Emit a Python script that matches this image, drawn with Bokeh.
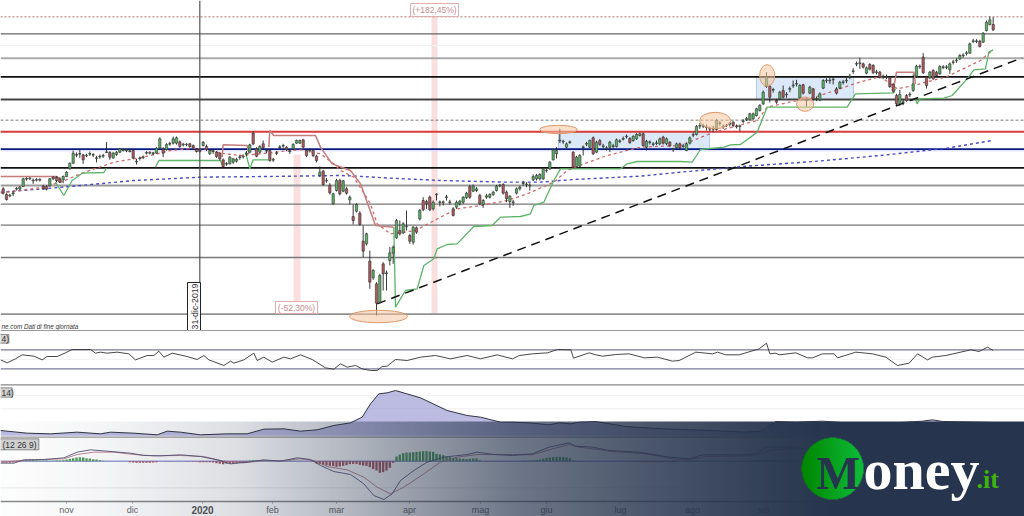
import math
import numpy as np
from bokeh.plotting import figure
from bokeh.embed import file_html
from bokeh.resources import INLINE
from bokeh.core.properties import value
from bokeh.models import Range1d

opens = [565,582,586,580,566,565,558,536,535,541,
 539,539,557,558,556,530,530,535,538,528,
 505,488,464,461,463,466,461,464,474,469,
 467,456,456,472,462,455,450,451,453,450,
 484,474,471,458,458,459,458,443,447,447,
 431,428,428,424,433,433,430,435,447,447,
 435,438,460,453,455,458,478,491,490,485,
 482,471,469,461,455,398,445,455,430,452,
 450,479,459,441,437,440,453,445,428,428,
 418,450,451,450,467,525,512,541,555,610,
 570,540,572,565,598,648,632,638,722,730,
 782,832,850,905,790,819,780,758,712,690,
 697,679,705,725,682,655,600,603,590,625,
 583,606,606,591,606,625,620,610,605,592,
 558,572,570,585,612,590,590,582,570,556,
 552,575,603,606,578,565,549,553,556,538,
 535,535,535,511,505,478,460,421,424,440,
 426,455,498,497,441,431,440,412,455,420,
 438,444,440,438,438,423,416,409,414,420,
 415,405,400,440,426,432,429,430,410,430,
 425,448,442,430,438,450,428,404,402,377,
 377,381,386,386,387,369,379,376,371,365,
 379,378,363,358,358,355,345,330,310,258,
 258,269,300,295,270,283,266,256,251,292,
 253,300,278,265,296,298,263,241,241,238,
 265,263,246,241,229,213,191,189,190,218,
 192,195,216,215,229,229,232,252,285,310,
 306,285,283,270,228,199,170,230,232,210,
 215,220,201,201,208,186,181,175,166,159,
 158,123,123,122,125,90,72,72]
closes = [578,597,584,577,564,560,535,534,533,539,
 537,537,565,566,535,535,540,545,528,515,
 488,458,462,459,478,464,459,462,472,467,
 465,454,470,458,455,445,447,448,451,473,
 482,472,469,456,456,457,443,415,458,432,
 429,415,412,438,431,431,438,442,453,453,
 425,447,450,451,468,475,498,489,470,475,
 476,469,467,459,433,430,467,438,442,450,
 480,477,457,439,435,447,451,432,420,420,
 440,465,449,465,480,515,552,539,577,580,
 540,580,541,578,590,660,612,672,752,700,
 845,810,908,825,820,817,757,740,660,700,
 670,677,722,680,695,630,628,610,628,605,
 581,604,604,589,604,645,605,602,590,578,
 590,556,565,610,600,586,582,575,557,554,
 578,595,587,604,565,560,547,551,554,528,
 525,522,505,509,485,448,450,419,422,430,
 424,500,470,465,439,429,420,460,425,432,
 436,442,425,436,418,421,414,407,426,408,
 402,400,435,422,424,430,427,415,428,415,
 436,446,430,442,436,430,412,402,378,375,
 375,379,384,384,360,367,377,374,369,375,
 377,376,361,354,340,340,325,315,275,230,
 290,267,305,275,290,281,264,254,249,255,
 278,298,260,295,294,280,240,239,239,236,
 278,245,244,239,227,211,189,187,200,202,
 206,217,214,230,227,227,258,272,310,282,
 304,300,281,250,197,197,217,255,215,235,
 225,198,199,199,190,184,179,165,164,157,
 130,121,121,138,98,65,58,88]
highs = [560,578,580,572,560,556,532,530,530,534,
 533,533,553,554,533,527,527,530,525,512,
 486,450,456,445,460,460,453,458,466,462,
 460,425,452,455,452,442,443,445,448,447,
 475,468,465,452,452,454,440,410,440,428,
 424,408,408,420,427,428,427,432,443,443,
 422,432,447,447,452,455,474,485,467,472,
 472,463,462,452,430,392,440,434,420,445,
 447,472,452,434,430,437,447,428,417,417,
 415,447,445,447,463,498,508,532,548,577,
 535,535,538,560,585,612,608,632,675,697,
 750,806,845,820,785,810,740,735,655,660,
 665,630,700,677,678,625,590,598,585,600,
 578,600,600,583,598,620,600,598,587,574,
 553,552,560,580,596,580,578,571,553,550,
 548,570,584,598,561,556,541,545,548,522,
 520,518,501,505,482,445,440,385,418,426,
 420,452,466,461,435,424,417,408,421,416,
 430,437,421,430,414,416,408,402,410,404,
 398,396,396,418,420,425,420,411,406,411,
 422,442,426,426,430,426,408,396,374,368,
 370,372,378,376,356,362,372,370,364,362,
 372,372,356,349,337,336,322,311,270,215,
 252,262,295,271,255,275,258,240,238,251,
 250,292,256,262,288,276,236,233,232,230,
 260,241,238,232,220,203,183,172,186,198,
 188,191,208,211,222,222,228,248,280,268,
 298,281,275,222,193,192,158,226,211,206,
 211,194,194,194,186,178,173,161,158,152,
 126,115,116,118,95,60,48,50]
lows = [582,600,590,586,570,570,560,540,538,550,
 543,543,568,570,558,538,545,548,548,530,
 507,490,470,472,490,470,466,470,486,475,
 472,458,478,475,466,458,453,455,456,476,
 492,480,476,462,462,464,460,445,470,450,
 436,432,432,442,438,437,442,447,456,456,
 438,452,463,460,472,480,502,496,492,490,
 486,478,474,466,458,434,470,458,446,458,
 484,484,464,446,442,452,460,448,430,430,
 443,470,456,470,486,530,556,547,582,612,
 573,585,575,582,612,672,636,675,770,735,
 865,838,945,908,870,870,795,790,715,705,
 700,690,730,732,700,660,632,625,632,630,
 600,618,615,600,612,648,625,615,610,595,
 595,575,575,614,622,595,594,586,573,560,
 582,605,622,616,582,570,556,560,570,542,
 540,540,538,516,508,480,474,428,430,443,
 430,503,500,500,465,437,443,463,458,436,
 443,450,455,445,441,428,420,414,430,424,
 418,408,438,450,432,438,434,434,432,434,
 440,454,446,446,442,452,432,410,405,385,
 383,390,392,395,390,376,385,380,378,380,
 384,392,368,362,361,358,348,333,314,262,
 306,276,310,298,294,292,275,262,258,296,
 282,318,281,300,302,302,266,248,250,252,
 282,266,252,248,236,220,197,205,204,221,
 210,220,222,234,236,236,262,277,314,316,
 314,304,290,274,232,205,220,264,236,238,
 229,223,206,206,220,192,187,178,172,165,
 160,128,128,141,127,93,75,92]

# horizontal levels of the price panel
level_y = [49,100,135,173,229,297,359,394,446,502,555,611,674,771,941]
level_colors = ["#b56a6a","#666666","#f2f2f2","#aaaaaa","#111111","#444444","#777777","#d93a3a",
                "#0a1a80","#111111","#999999","#777777","#777777","#777777","#909090"]
level_widths = [1,1.2,1,2,1.6,2,1,2,1.8,1.6,2,1.4,1.4,1.4,1.8]
level_dashes = ["2 2","solid","solid","solid","solid","solid","3 2","solid","solid","solid","solid","solid","solid","solid","solid"]

ma_long_x = [0,130,240,400,600,800,1020,1070,1170,1320,1520,1620,1720,1920,2040,2240,2440,2640,2840,2975]
ma_long_y = [575,565,555,540,530,528,525,527,533,540,545,545,537,527,515,497,483,465,443,420]
ma_short_x = [0,130,180,240,340,420,510,580,620,660,720,800,850,900,960,1000,1020,1060,1110,1130,1170,1245,1320,1370,1440,1520,1580,1660,1700,1750,1820,1920,2040,2140,2270,2300,2390,2460,2560,2640,2690,2740,2840,2940,2975]
ma_short_y = [578,560,545,520,485,472,450,443,447,458,465,458,452,448,460,490,510,530,610,670,700,690,650,625,615,600,580,545,510,490,465,440,435,395,360,320,300,285,250,228,265,255,228,180,150]

stop_red_x = [[0,170,185],[665,668,740,745],[805,808,820,945,960,995,1050,1080,1125,1180],[2680,2688,2740,2745]]
stop_red_y = [[528,528,545],[470,433,435,460],[440,390,405,405,440,490,510,550,675,680],[260,215,215,250]]
stop_green_x = [[165,190,215,245,310,318],[465,475,660,667],[735,748,758,803],
  [1180,1185,1215,1250,1270,1300,1310,1340,1370,1420,1475,1500,1560,1590,1600,1630,1660,1680,1860,1880,1910,2040,2075,2100,2170,2190,2220,2270,2300,2540,2565,2680,2685],
  [2745,2750,2758,2830,2855,2900,2920,2955,2965,2978]]
stop_green_y = [[545,585,540,518,516,503],[500,480,480,498],[455,505,478,478],
  [680,920,870,865,795,775,745,732,730,678,675,650,648,640,615,605,540,505,505,490,483,483,485,447,440,433,432,395,320,320,280,277,265],
  [295,310,295,293,285,235,208,205,155,148]]
trend_x = [1130,3065]
trend_y = [910,172]

zone_left = [1674,2268]
zone_right = [2127,2559]
zone_top = [394,229]
zone_bottom = [446,297]
oval_x = [1134,1674,2144,2300,2414]
oval_y = [948,387,360,225,311]
oval_w = [174,113,93,45,51]
oval_h = [37,25,49,65,43]
band_left = [879,1293]
band_right = [900,1311]
band_top = [462,49]
band_bottom = [903,941]

rsi_x = [0,20,45,65,100,125,140,170,195,215,270,285,300,320,350,385,405,440,460,475,490,515,560,590,610,625,670,690,700,730,760,770,790,815,850,870,900,935,975,1000,1020,1040,1065,1085,1110,1130,1145,1160,1185,1220,1260,1305,1350,1400,1440,1490,1536,
 1556,1596,1641,1671,1711,1719,1766,1786,1806,1846,1886,1931,1971,2016,2036,2086,2136,2151,2176,2216,2276,2298,2308,2326,2336,2386,2421,2436,2466,2501,2511,2566,2616,2656,2691,2726,2751,2781,2796,2836,2911,2936,2961,2978]
rsi_y = [148,157,145,133,137,148,138,138,127,117,117,128,125,128,125,130,148,135,135,122,140,128,138,147,135,148,165,152,158,148,128,150,140,155,140,145,133,147,172,176,160,170,165,175,180,180,168,167,147,150,140,135,145,135,145,133,145,
 135,130,127,117,118,143,127,133,137,132,130,142,140,152,150,125,130,125,133,133,115,98,130,128,133,127,142,142,130,130,142,125,130,140,165,158,130,148,140,135,118,123,110,120]
adx_x = [0,80,150,230,300,330,400,470,500,540,600,680,740,790,850,900,950,1000,1050,1085,1110,1135,1160,1185,1260,1340,1400,1440,1500,1536,
 1586,1646,1676,1711,1736,1786,1876,1986,2136,2236,2281,2326,2386,2466,2536,2686,2766,2796,2826,2936,2978]
adx_y = [360,368,370,365,370,365,368,373,362,365,373,370,370,356,355,362,358,345,337,320,280,250,247,240,262,300,315,320,335,335,
 337,343,337,340,335,333,348,355,360,365,362,333,335,332,337,337,332,328,333,335,336]
macd_x = [0,40,70,130,190,230,270,320,390,430,480,540,600,650,690,740,790,840,890,930,960,1000,1050,1090,1120,1150,1175,1200,1240,1280,1330,1400,1430,1480,1536,
 1596,1646,1706,1726,1776,1826,1916,2006,2066,2106,2236,2266,2296,2386,2436,2536,2700,2860,2978]
macd_y = [458,458,448,447,442,425,418,422,428,435,436,433,438,448,460,455,448,452,442,447,465,483,492,520,555,567,550,510,480,455,440,432,425,432,435,
 430,410,397,407,410,420,425,440,445,433,433,430,410,410,420,420,424,436,432]
signal_x = [0,60,130,190,230,280,340,400,460,540,610,670,730,790,850,900,940,980,1040,1090,1130,1170,1210,1270,1320,1370,1430,1536,
 1596,1646,1706,1736,1836,1936,2016,2066,2116,2256,2316,2396,2600,2800,2978]
signal_y = [455,450,447,445,432,425,425,432,436,435,438,452,457,450,450,445,450,468,478,500,530,550,530,490,455,440,432,432,
 433,418,402,410,423,430,445,448,438,436,418,413,422,434,434]
macd_hist = [-4,-5,-5,-4,-3,-2,3,4,4,4,3,2,2,2,1,1,2,2,3,5,7,9,11,12,11,9,8,6,5,3,
 1,0,0,0,0,0,0,0,-3,-4,-5,-5,-5,-5,-5,-4,-3,0,0,-1,-1,-1,0,0,0,-1,-1,-1,
 -2,-3,-3,-3,-3,-4,-6,-8,-9,-8,-7,-7,-6,-5,-5,-4,2,3,3,3,4,3,2,
 0,1,1,1,1,2,1,1,1,0,0,0,-1,
 -7,-9,-11,-13,-14,-15,-17,-16,-14,-12,-9,-8,-8,-11,-13,-14,-18,-24,-28,-35,-33,-28,-20,-5,
 14,20,24,26,26,27,28,29,30,30,29,28,22,20,18,14,12,10,9,8,7,6,7,8,8,3,
 0,-1,-1,-1,-1,-1,-1,0,0,0,0,0,1,1,2,3,4,5,7,10,11,12,13,13,12,11,8,2,
 -1,-1,0,0,0,0,0,0,0,0,0,0,0,0,0,0,-1,-1,
 -2,-2,-3,-3,-3,-3,-3,-3,-3,-3,-3,-3,-2,-2,
 1,1,2,2,2,1,1,1,1,1,1,1,1,1,0,0,0,0,0,0,1,1,
 3,3,4,5,4,3,2,
 1,1,1,1,0,0,0,0,1,1,1,1,1,0,0,0,0,-1,-1,-1,-1,-1,-1,-1,0,0,0,1,1,1,1,2,2,2,2,1,1,1,0,0,0,0,0,-1,-1,-1,-1,-1,-1,0,0,0,0,1,1,1,2,2,2,2,2,2,1,1,1]

month_ticks = [198,396,606,816,1008,1227,1440,1638,1860,2076,2289,2490,2700]
month_labels = ["nov","dic","2020","feb","mar","apr","mag","giu","lug","ago","set","ott","nov"]

X0, X1 = 0, 3072
Y0, Y1 = 1548, 0

p = figure(width=1024, height=516, output_backend="svg", toolbar_location=None,
           x_range=Range1d(X0, X1), y_range=Range1d(Y0, Y1),
           min_border=0, min_border_left=0, min_border_right=0, min_border_top=0, min_border_bottom=0)
p.outline_line_color = None
p.background_fill_color = "white"
p.xgrid.visible = False
p.ygrid.visible = False
p.yaxis.visible = False
p.xaxis.visible = False
# panels below the price chart have their own scale
p.extra_y_ranges = {"lower": Range1d(Y0 - 930, Y1 - 930)}
SANS = value("Liberation Sans")

# shaded zones and percentage bands
p.quad(left=zone_left, right=zone_right, top=zone_top, bottom=zone_bottom,
       fill_color="#cfe0f6", fill_alpha=0.75, line_color="#a5bfe3", line_width=0.8)
p.quad(left=band_left, right=band_right, top=band_top, bottom=band_bottom,
       fill_color="#f9dcdc", fill_alpha=0.9, line_color=None)

# levels
for yv, c, w, d in zip(level_y, level_colors, level_widths, level_dashes):
    p.line([X0, X1], [yv, yv], line_color=c, line_width=w, line_dash=d)
p.line([X0, X1], [451, 451], line_color="#d5d8ff", line_width=1)

# indicators on price
p.line(ma_long_x, ma_long_y, line_color="#4a4ac4", line_width=1.4, line_dash="3 3")
p.line(ma_short_x, ma_short_y, line_color="#cf6a6a", line_width=1.3, line_dash="3 3")
p.multi_line(stop_red_x, stop_red_y, line_color="#c47c7c", line_width=1.5)
p.multi_line(stop_green_x, stop_green_y, line_color="#5cb567", line_width=1.3)
p.line(trend_x, trend_y, line_color="#111111", line_width=1.5, line_dash="9 6")

# candlesticks
bar_x = 8 + 10 * np.arange(len(opens))
o = np.array(opens); c = np.array(closes)
bar_colors = ["#5bb266" if a >= b else "#b05a5e" for a, b in zip(o, c)]
p.segment(bar_x, highs, bar_x, lows, line_color="#222222", line_width=0.9)
p.vbar(bar_x, width=7, top=np.minimum(o, c), bottom=np.maximum(o, c),
       fill_color=bar_colors, line_color="#333333", line_width=0.6)

p.ellipse(oval_x, oval_y, width=oval_w, height=oval_h,
          fill_color="#f5c7a0", fill_alpha=0.55, line_color="#dc9a6a", line_width=1)

# date marker
p.line([598, 598], [0, 990], line_color="#444444", line_width=1.1)
p.quad(left=[561], right=[600], top=[846], bottom=[990], fill_color="#fbfbfb", line_color="#222222", line_width=1)
p.text([582], [918], text=["31-dic-2019"], angle=math.pi / 2, text_align="center", text_baseline="middle",
       text_font=SANS, text_font_size="8.7px", text_color="#333333")

# percentage tags
tag_left = [1230, 825]
tag_right = [1374, 951]
tag_top = [9, 903]
tag_bottom = [48, 939]
tag_text = ["(+182,45%)", "(-52,30%)"]
p.quad(left=tag_left, right=tag_right, top=tag_top, bottom=tag_bottom,
       fill_color="white", line_color="#dcaeb0", line_width=1)
p.text([1302, 888], [29, 921], text=tag_text, text_align="center", text_baseline="middle",
       text_font=SANS, text_font_size="8.5px", text_color="#c58a8c")

p.text([3], [979], text=["ne.com  Dati di fine giornata"], text_baseline="middle",
       text_font=SANS, text_font_style="italic", text_font_size="6.3px", text_color="#333333")

# panel separators and bounds
for yv, col, w in [(990, "#999999", 1.2), (1153, "#888888", 1.2), (1185, "#f3f3f3", 1), (1225, "#eeeeee", 1), (1310, "#999999", 1.4)]:
    p.line([X0, X1], [yv, yv], line_color=col, line_width=w)
for yv in [1048, 1105]:
    p.line([X0, X1], [yv, yv], line_color="#7a7a96", line_width=1.2)
p.line([X0, X1], [1077, 1077], line_color="#f2f2f2", line_width=1)

# RSI
p.line(rsi_x, rsi_y, y_range_name="lower", line_color="#333333", line_width=0.9)
# area oscillator
p.varea(adx_x, y1=adx_y, y2=[376] * len(adx_x), y_range_name="lower", fill_color="#8f8fd0", fill_alpha=0.6)
p.line(adx_x, adx_y, y_range_name="lower", line_color="#333344", line_width=1)

# MACD
p.line([X0, X1], [532, 532], y_range_name="lower", line_color="#ececec", line_width=1)
hist_x = 8 + 10 * np.arange(len(macd_hist))
hist = np.array(macd_hist)
hist_colors = ["#4f9e5a" if h > 0 else "#a85a66" for h in hist]
p.line([X0, X1], [452, 452], y_range_name="lower", line_color="#7070c4", line_width=1)
p.vbar(hist_x, width=7, bottom=452, top=452 - hist, y_range_name="lower",
       fill_color=hist_colors, line_color=None)
p.line(signal_x, signal_y, y_range_name="lower", line_color="#b87a86", line_width=0.9)
p.line(macd_x, macd_y, y_range_name="lower", line_color="#55557a", line_width=0.9)

# panel tags
tag2_l = [-6, -6, -6]
tag2_r = [25, 35, 115]
tag2_t = [1002, 1162, 1315]
tag2_b = [1028, 1190, 1348]
p.quad(left=tag2_l, right=tag2_r, top=tag2_t, bottom=tag2_b, fill_color="#d2d2d2", line_color="#777777", line_width=0.8)
p.text([3, 3, 6], [1016, 1177, 1332], text=["4)", "14)", "(12 26 9)"], text_baseline="middle",
       text_font=SANS, text_font_size="8.5px", text_color="#333333")

# month axis
p.line([X0, X1], [1503, 1503], line_color="#888888", line_width=1.5)
p.segment(month_ticks, [1503] * len(month_ticks), month_ticks, [1509] * len(month_ticks), line_color="#888888", line_width=0.8)
plain = [i for i, l in enumerate(month_labels) if l != "2020"]
bold = [i for i, l in enumerate(month_labels) if l == "2020"]
p.text([month_ticks[i] for i in plain], [1527] * len(plain), text=[month_labels[i] for i in plain],
       text_align="center", text_baseline="middle", text_font=SANS, text_font_size="9px", text_color="#666666")
p.text([month_ticks[i] for i in bold], [1527] * len(bold), text=[month_labels[i] for i in bold],
       text_align="center", text_baseline="middle", text_font=SANS, text_font_style="bold",
       text_font_size="10px", text_color="#555555")

# banner with its fade, over everything, as one image
banner_px = [0, 100, 233, 333, 433, 512, 645, 779, 830, 1024]
banner_alpha = [0.01, 0.05, 0.16, 0.33, 0.52, 0.67, 0.83, 0.96, 1.0, 1.0]
alpha_col = np.interp(np.arange(1024) + 0.5, banner_px, banner_alpha)
img = np.zeros((1, 1024, 4), dtype=np.uint8)
img[..., 0], img[..., 1], img[..., 2] = 0x26, 0x34, 0x4d
img[0, :, 3] = (alpha_col * 255).astype(np.uint8)
rgba = img.view(dtype=np.uint32).reshape((1, 1024))
p.image_rgba(image=[rgba], x=0, y=1263, dw=3072, dh=285)

# logo: a round badge with its left-to-right green fade
N = 248
yy, xx = np.mgrid[0:N, 0:N]
dist = np.hypot(xx + 0.5 - N / 2, yy + 0.5 - N / 2)
logo = np.zeros((N, N, 4), dtype=np.uint8)
t = (xx + 0.5) / N
logo[..., 0] = (0 + 14 * t).astype(np.uint8)
logo[..., 1] = (134 + 56 * t).astype(np.uint8)
logo[..., 2] = (0 + 60 * t).astype(np.uint8)
logo[..., 3] = (np.clip(N / 2 - dist, 0, 1) * 255).astype(np.uint8)
p.image_rgba(image=[logo.view(dtype=np.uint32).reshape((N, N))], x=2403, y=1311, dw=186, dh=186)

logo_text = ["M", "oney", ".it"]
logo_x = [2448, 2589, 2928]
logo_y = [1420, 1407, 1437]
logo_size = ["46px", "58px", "26px"]
logo_color = ["#26344d", "#ffffff", "#3fb20e"]
for txt, lx, ly, fs, col in zip(logo_text, logo_x, logo_y, logo_size, logo_color):
    p.text([lx], [ly], text=[txt], text_baseline="alphabetic", text_font=value("Liberation Serif"),
           text_font_style="bold", text_font_size=fs, text_color=col)

open("out.html", "w").write(file_html(p, INLINE))
